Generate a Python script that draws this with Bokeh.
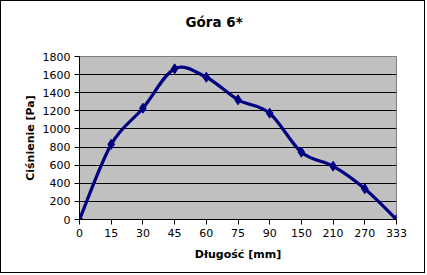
import numpy as np
from bokeh.plotting import figure
from bokeh.models import Range1d, FixedTicker, Title
from bokeh.embed import file_html
from bokeh.resources import INLINE

# ---- data ----
categories = ["0", "15", "30", "45", "60", "75", "90", "150", "210", "270", "333"]
pressure = [0, 830, 1229, 1664, 1571, 1322, 1174, 743, 589, 339, 0]
y_ticks = [0, 200, 400, 600, 800, 1000, 1200, 1400, 1600, 1800]
title_text = "Góra 6*"

NAVY = "#000080"
FONT = "DejaVu Sans"

x = np.arange(len(categories), dtype=float)
y = np.array(pressure, dtype=float)

# smoothed line (Catmull-Rom style Bezier control points, like Excel smoothing)
xp = np.concatenate([[x[0]], x, [x[-1]]])
yp = np.concatenate([[y[0]], y, [y[-1]]])
n = len(x)
x0, y0 = x[:-1], y[:-1]
x1, y1 = x[1:], y[1:]
k = 1 / 6
cx0 = x0 + (xp[2:n + 1] - xp[0:n - 1]) * k
cy0 = y0 + (yp[2:n + 1] - yp[0:n - 1]) * k
cx1 = x1 - (xp[3:n + 2] - xp[1:n]) * k
cy1 = y1 - (yp[3:n + 2] - yp[1:n]) * k

p = figure(width=425, height=273, output_backend="svg", toolbar_location=None,
           x_range=Range1d(0, len(categories) - 1), y_range=Range1d(0, 1800),
           min_border_left=78, min_border_right=30, min_border_top=55, min_border_bottom=55)
p.styles = {"border": "1px solid black"}

p.background_fill_color = "#C0C0C0"
p.border_fill_color = "white"
p.outline_line_color = "#808080"
p.outline_line_width = 1

# spacer between frame and title, then the real title further up
p.add_layout(Title(text=" ", text_font_size="1px", standoff=24), "above")
p.title = Title(text=title_text, align="left", offset=106, standoff=0,
                text_font=FONT, text_font_size="13.5px", text_font_style="bold",
                text_color="black")

p.xgrid.visible = False
p.ygrid.grid_line_color = "black"
p.ygrid.grid_line_alpha = 1.0
p.ygrid.grid_line_width = 1

p.yaxis.ticker = FixedTicker(ticks=y_ticks)
p.xaxis.ticker = FixedTicker(ticks=list(range(len(categories))))
p.xaxis.major_label_overrides = {i: c for i, c in enumerate(categories)}

for ax in (p.xaxis[0], p.yaxis[0]):
    ax.axis_line_color = "black"
    ax.major_tick_line_color = "black"
    ax.major_tick_out = 5
    ax.major_tick_in = 0
    ax.minor_tick_line_color = None
    ax.major_label_text_font = FONT
    ax.major_label_text_font_size = "11px"
    ax.major_label_text_color = "black"
    ax.axis_label_text_font = FONT
    ax.axis_label_text_font_size = "11px"
    ax.axis_label_text_font_style = "bold"
    ax.axis_label_text_color = "black"

p.xaxis.axis_label = "Długość [mm]"
p.yaxis.axis_label = "Ciśnienie [Pa]"
p.xaxis.major_label_standoff = 4
p.yaxis.major_label_standoff = 4
p.xaxis.axis_label_standoff = 8
p.yaxis.axis_label_standoff = 3

p.bezier(x0=x0, y0=y0, x1=x1, y1=y1, cx0=cx0, cy0=cy0, cx1=cx1, cy1=cy1,
         line_color=NAVY, line_width=3.2)
p.scatter(x, y, marker="diamond", size=10, color=NAVY)

open("out.html", "w").write(file_html(p, INLINE))
